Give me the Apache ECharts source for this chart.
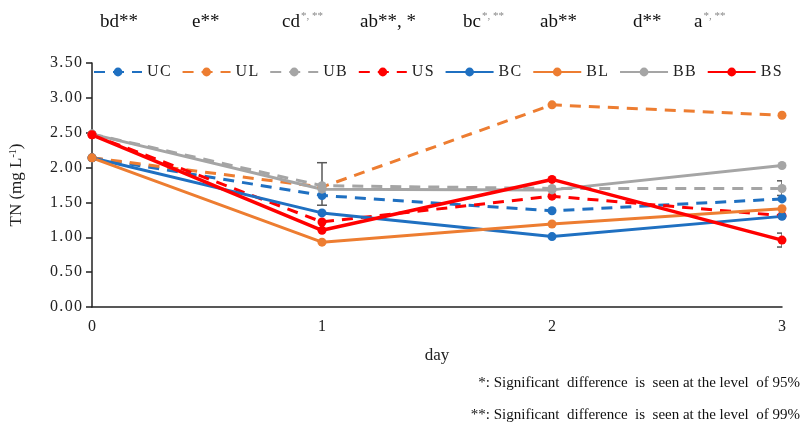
<!DOCTYPE html>
<html>
<head>
<meta charset="utf-8">
<script src="https://cdn.jsdelivr.net/npm/echarts@6/dist/echarts.min.js"></script>
<style>
  html, body { margin: 0; padding: 0; background: #fff; }
  #main { width: 810px; height: 430px; }
</style>
</head>
<body>
<div id="main"></div>
<script>
// days on the x axis
var days = [0, 1, 2, 3];
var yTicks = [0, 0.5, 1, 1.5, 2, 2.5, 3, 3.5];

// TN (mg L-1)
var UC = [2.14, 1.60, 1.38, 1.55];
var UL = [2.14, 1.72, 2.90, 2.75];
var UB = [2.48, 1.74, 1.70, 1.70];
var US = [2.47, 1.22, 1.59, 1.31];
var BC = [2.14, 1.35, 1.01, 1.30];
var BL = [2.14, 0.93, 1.19, 1.41];
var BB = [2.48, 1.69, 1.68, 2.03];
var BS = [2.47, 1.10, 1.83, 0.96];

// error bars visible in the figure: [day, low, high]
var errBars = [[1, 1.46, 2.07], [3, 1.60, 1.81], [3, 0.86, 1.06]];

// significance letters along the top
var sigMain = ['bd**', 'e**', 'cd', 'ab**, *', 'bc', 'ab**', 'd**', 'a'];
var sigSup  = ['', '', '*, **', '', '*, **', '', '', '*, **'];
var sigX    = [100, 192, 282, 360, 463, 540, 633, 694];

var notes = [
  '*: Significant  difference  is  seen at the level  of 95%',
  '**: Significant  difference  is  seen at the level  of 99%'
];

var BLUE = '#1f70c1', ORANGE = '#ed7d31', GRAY = '#a5a5a5', RED = '#ff0000';
var FONT = '"Liberation Serif", "Times New Roman", serif';

// wide-ish spacing like the source picture
function sp(s) { return String(s).split('').join('\u200A'); }

// width of a string, for placing the superscripts
var mctx = document.createElement('canvas').getContext('2d');
function textW(s, size) {
  mctx.font = size + 'px "Liberation Serif"';
  return mctx.measureText(s).width;
}

function pairs(vals) {
  return days.map(function (d, i) { return [d, vals[i]]; });
}

function lineSeries(name, vals, color, dashed, width) {
  return {
    name: name,
    type: 'line',
    data: pairs(vals),
    symbol: 'circle',
    symbolSize: 9,
    lineStyle: { color: color, width: width || 3, type: dashed ? [11, 8] : 'solid' },
    itemStyle: { color: color },
    z: 3
  };
}

var chart = echarts.init(document.getElementById('main'));

var graphics = [];
sigMain.forEach(function (t, i) {
  graphics.push({
    type: 'text',
    left: sigX[i],
    top: 13,
    style: { text: t, fontFamily: FONT, fontSize: 19, fill: '#111' }
  });
  if (sigSup[i]) {
    graphics.push({
      type: 'text',
      left: sigX[i] + textW(t, 19) + 1,
      top: 11,
      style: { text: sigSup[i], fontFamily: FONT, fontSize: 11, fill: '#888' }
    });
  }
});
notes.forEach(function (n, i) {
  graphics.push({
    type: 'text',
    right: 10,
    top: 376 + i * 32,
    style: { text: n, fontFamily: FONT, fontSize: 15, fill: '#111' }
  });
});

var option = {
  backgroundColor: '#fff',
  animation: false,
  grid: { left: 92, right: 28, top: 63, bottom: 123 },
  legend: {
    left: 93,
    top: 64,
    padding: 0,
    itemWidth: 48,
    itemHeight: 11,
    itemGap: 11,
    textStyle: { fontFamily: FONT, fontSize: 16, color: '#222' },
    formatter: function (n) { return sp(n); },
    data: ['UC', 'UL', 'UB', 'US', 'BC', 'BL', 'BB', 'BS']
  },
  xAxis: {
    type: 'value',
    min: 0,
    max: 3,
    interval: 1,
    name: 'day',
    nameLocation: 'middle',
    nameGap: 40,
    nameTextStyle: { fontFamily: FONT, fontSize: 17, color: '#222' },
    axisLine: { lineStyle: { color: '#222', width: 1.5 } },
    axisTick: { show: false },
    splitLine: { show: false },
    axisLabel: { fontFamily: FONT, fontSize: 16, color: '#222', margin: 12 }
  },
  yAxis: {
    type: 'value',
    min: yTicks[0],
    max: yTicks[yTicks.length - 1],
    interval: 0.5,
    name: 'TN (mg L{sup|-1})',
    nameLocation: 'middle',
    nameGap: 66,
    nameTextStyle: {
      fontFamily: FONT, fontSize: 17, color: '#222',
      rich: { sup: { fontFamily: FONT, fontSize: 10, color: '#222', verticalAlign: 'top', lineHeight: 18 } }
    },
    axisLine: { show: true, lineStyle: { color: '#222', width: 1.5 } },
    axisTick: { show: true, length: 6, lineStyle: { color: '#222', width: 1.5 } },
    splitLine: { show: false },
    axisLabel: {
      fontFamily: FONT, fontSize: 16, color: '#222', margin: 10,
      formatter: function (v) { return sp(v.toFixed(2)); }
    }
  },
  graphic: graphics,
  series: [
    lineSeries('UC', UC, BLUE, true),
    lineSeries('UL', UL, ORANGE, true),
    lineSeries('UB', UB, GRAY, true),
    lineSeries('US', US, RED, true),
    lineSeries('BC', BC, BLUE, false),
    lineSeries('BL', BL, ORANGE, false),
    lineSeries('BB', BB, GRAY, false),
    lineSeries('BS', BS, RED, false, 3.5),
    {
      type: 'custom',
      name: 'err',
      clip: true,
      z: 2,
      data: errBars,
      renderItem: function (params, api) {
        var top = api.coord([api.value(0), api.value(2)]);
        var bot = api.coord([api.value(0), api.value(1)]);
        var w = 5;
        var st = { stroke: '#595959', lineWidth: 1.5 };
        return {
          type: 'group',
          children: [
            { type: 'line', shape: { x1: top[0], y1: top[1], x2: bot[0], y2: bot[1] }, style: st },
            { type: 'line', shape: { x1: top[0] - w, y1: top[1], x2: top[0] + w, y2: top[1] }, style: st },
            { type: 'line', shape: { x1: bot[0] - w, y1: bot[1], x2: bot[0] + w, y2: bot[1] }, style: st }
          ]
        };
      }
    }
  ]
};

chart.setOption(option);
</script>
</body>
</html>
